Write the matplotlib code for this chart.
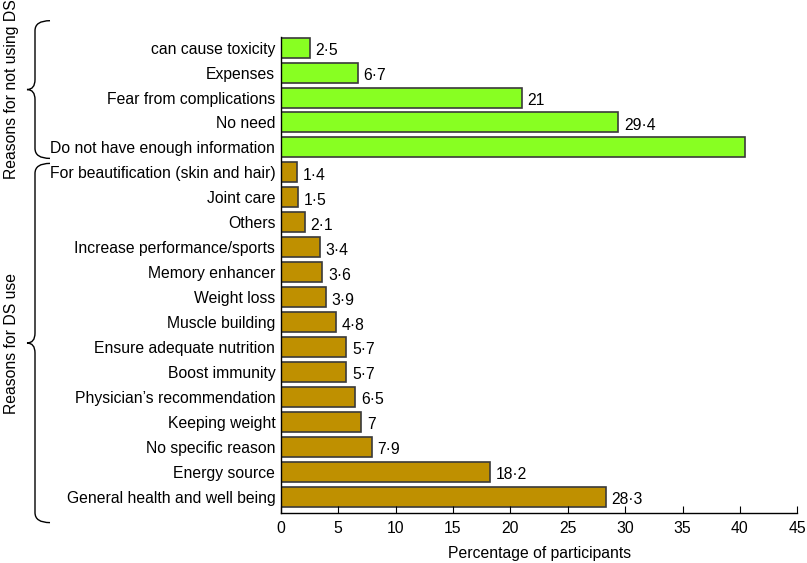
import matplotlib.pyplot as plt
import matplotlib.transforms as mtransforms
from matplotlib.path import Path
from matplotlib.patches import PathPatch

plt.rcParams['font.family'] = ['Liberation Sans', 'DejaVu Sans']

# Motivos para nao usar suplementos (verde), de cima para baixo
nao_usa_motivos = ['can cause toxicity', 'Expenses', 'Fear from complications',
                   'No need', 'Do not have enough information']
nao_usa_valores = [2.5, 6.7, 21, 29.4, 40.4]
nao_usa_rotulos = ['2·5', '6·7', '21', '29·4', '']

# Motivos para usar suplementos (dourado), de cima para baixo
usa_motivos = ['For beautification (skin and hair)', 'Joint care', 'Others',
               'Increase performance/sports', 'Memory enhancer', 'Weight loss',
               'Muscle building', 'Ensure adequate nutrition', 'Boost immunity',
               'Physician\u2019s recommendation', 'Keeping weight',
               'No specific reason', 'Energy source',
               'General health and well being']
usa_valores = [1.4, 1.5, 2.1, 3.4, 3.6, 3.9, 4.8, 5.7, 5.7, 6.5, 7, 7.9, 18.2, 28.3]
usa_rotulos = ['1·4', '1·5', '2·1', '3·4', '3·6', '3·9', '4·8', '5·7', '5·7',
               '6·5', '7', '7·9', '18·2', '28·3']

grupos = ['Reasons for not using DS', 'Reasons for DS use']

motivos = nao_usa_motivos + usa_motivos
valores = nao_usa_valores + usa_valores
rotulos = nao_usa_rotulos + usa_rotulos
cores = ['#88FF22'] * len(nao_usa_motivos) + ['#BF9000'] * len(usa_motivos)
pos = list(range(len(motivos)))

fs = 11.3

fig = plt.figure(figsize=(8.07, 5.63), dpi=100)
ax = fig.add_axes([0.348, 0.089, 0.64, 0.845])

ax.barh(pos, valores, height=0.8, color=cores, edgecolor='#3a3a3a', linewidth=1.2)
for p, v, r in zip(pos, valores, rotulos):
    if r:
        ax.text(v + 0.5, p + 0.12, r, va='center', ha='left', fontsize=fs)

ax.set_ylim(len(motivos) - 0.35, -0.42)
ax.set_xlim(0, 45)
ax.set_xticks(range(0, 46, 5))
ax.set_yticks(pos)
ax.set_yticklabels(motivos, fontsize=fs)
ax.tick_params(axis='y', length=0, pad=4)
ax.tick_params(axis='x', direction='in', length=5, labelsize=fs, pad=6)
ax.spines['top'].set_visible(False)
ax.spines['right'].set_visible(False)
ax.spines['left'].set_linewidth(1.0)
ax.spines['bottom'].set_linewidth(1.0)
ax.set_xlabel('Percentage of participants', fontsize=fs, labelpad=7)

# Chaves do lado esquerdo
trans = mtransforms.blended_transform_factory(fig.transFigure, ax.transData)
xv = 35 / 807
xh = 50 / 807
xt = 27 / 807
r = 0.4


def chave(y0, y1, texto):
    ym = (y0 + y1) / 2
    verts = [(xh, y0), (xv, y0), (xv, y0 + r),
             (xv, ym - r), (xv, ym), (xt, ym),
             (xv, ym), (xv, ym + r),
             (xv, y1 - r), (xv, y1), (xh, y1)]
    codes = [Path.MOVETO, Path.CURVE3, Path.CURVE3,
             Path.LINETO, Path.CURVE3, Path.CURVE3,
             Path.CURVE3, Path.CURVE3,
             Path.LINETO, Path.CURVE3, Path.CURVE3]
    patch = PathPatch(Path(verts, codes), transform=trans, fill=False,
                      edgecolor='black', linewidth=1.0, clip_on=False)
    fig.add_artist(patch)
    fig.text(12 / 807, 0, texto, rotation=90, ha='center', va='center',
             fontsize=fs, transform=trans).set_y(ym)


chave(-1.08, 4.44, grupos[0])
chave(4.64, 19.04, grupos[1])

plt.savefig('out.png', dpi=100)
plt.close()
